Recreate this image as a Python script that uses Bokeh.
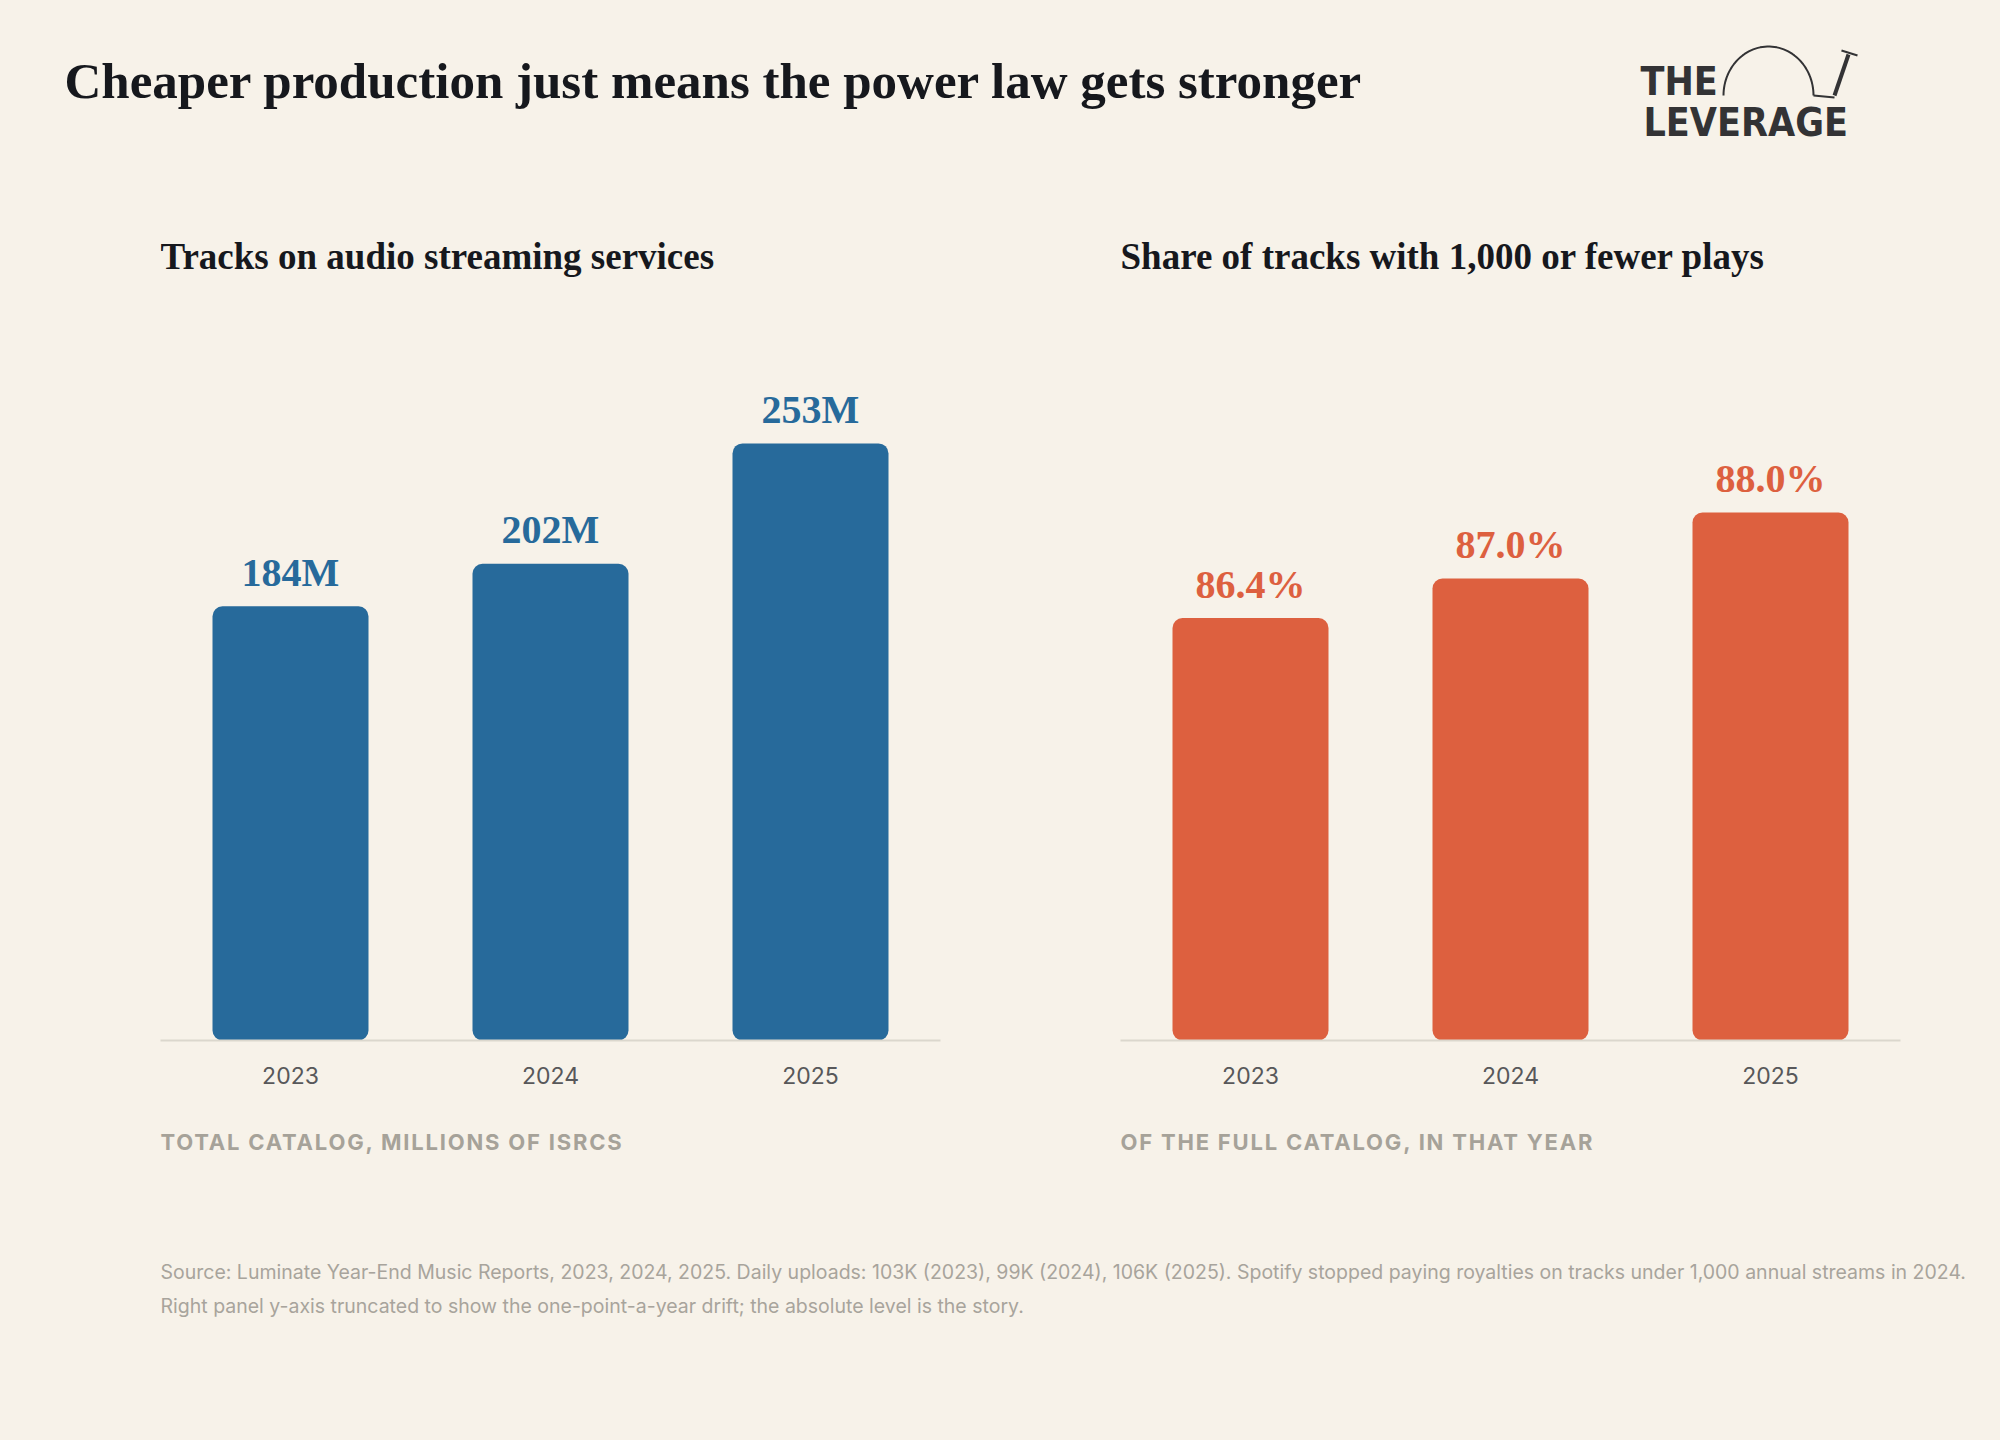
import numpy as np
from bokeh.plotting import figure
from bokeh.layouts import column, row
from bokeh.models import (Range1d, FactorRange, Label, ColumnDataSource,
                          GlobalInlineStyleSheet, InlineStyleSheet)
from bokeh.core.properties import value
from bokeh.embed import file_html
from bokeh.resources import INLINE

# ---------------- data ----------------
years = ["2023", "2024", "2025"]
tracks_m = [184, 202, 253]
share_pct = [86.4, 87.0, 88.0]
track_labels = [f"{v}M" for v in tracks_m]
share_labels = [f"{v:.1f}%" for v in share_pct]

TITLE = "Cheaper production just means the power law gets stronger"
LEFT_TITLE = "Tracks on audio streaming services"
RIGHT_TITLE = "Share of tracks with 1,000 or fewer plays"
LEFT_SUB = "TOTAL CATALOG, MILLIONS OF ISRCS"
RIGHT_SUB = "OF THE FULL CATALOG, IN THAT YEAR"
NOTE1 = ("Source: Luminate Year-End Music Reports, 2023, 2024, 2025. Daily uploads: 103K (2023), "
         "99K (2024), 106K (2025). Spotify stopped paying royalties on tracks under 1,000 annual streams in 2024.")
NOTE2 = "Right panel y-axis truncated to show the one-point-a-year drift; the absolute level is the story."

# ---------------- style ----------------
BG = "#f7f2e9"
BLUE = "#276a9b"
RED = "#dd603f"
INK = "#16181d"
LOGO = "#333335"
SUBC = "#a6a299"
NOTEC = "#a8a49c"
SERIF = "Liberation Serif"
SANS = "Inter"
BASE_SHIFT = 0.375  # alphabetic baseline correction (fraction of font size)


def base(y, size):
    """anchor for a text whose alphabetic baseline should land on screen row y"""
    return y - BASE_SHIFT * size


def blank(w, h, x0, x1, y0, y1, **kw):
    p = figure(width=w, height=h, x_range=Range1d(x0, x1), y_range=Range1d(y1, y0),
               output_backend="svg", toolbar_location=None,
               x_axis_location=None, y_axis_location=None, min_border=0, title=None, **kw)
    p.background_fill_color = BG
    p.border_fill_color = BG
    p.outline_line_color = None
    p.xgrid.visible = False
    p.ygrid.visible = False
    return p


# ---------------- header (rows 0..198) ----------------
header = blank(1984, 198, 0, 1984, 0, 198)
header.add_layout(Label(x=64, y=base(100, 51), text=TITLE, text_font=SERIF, text_font_size="51px",
                        text_font_style="bold", text_color=INK, text_baseline="alphabetic"))
header.add_layout(Label(x=1640, y=base(96, 39), text="THE", text_font="DejaVu Sans Condensed",
                        text_font_size="39px", text_font_style="bold", text_color=LOGO,
                        text_baseline="alphabetic"))
header.add_layout(Label(x=1643, y=base(137, 39), text="LEVERAGE", text_font="DejaVu Sans Condensed",
                        text_font_size="39px", text_font_style="bold", text_color=LOGO,
                        text_baseline="alphabetic"))
# simple line-drawing hint of the logo's head + pencil
t = np.linspace(0, np.pi, 60)
header.line(1768 - 45 * np.cos(t), 95 - 49 * np.sin(t), line_color=LOGO, line_width=2)
header.line([1813, 1834], [95, 97], line_color=LOGO, line_width=2)
header.line([1834, 1848], [95, 54], line_color=LOGO, line_width=4)
header.line([1841, 1857], [50, 55], line_color=LOGO, line_width=2)

# ---------------- panels (rows 198..1110) ----------------
TOP, BOTTOM = 198, 1110
FR_TOP, FR_BOT = 228, 1040  # screen rows of the plot frame


def panel(title, vals, labels, color, y0, pxper, width, bleft, bright):
    fh = FR_BOT - FR_TOP
    p = figure(width=width, height=BOTTOM - TOP,
               x_range=FactorRange(factors=years, range_padding=0),
               y_range=Range1d(y0, y0 + fh / pxper),
               output_backend="svg", toolbar_location=None, y_axis_location=None, title=None,
               min_border_left=bleft, min_border_right=bright,
               min_border_top=FR_TOP - TOP, min_border_bottom=BOTTOM - FR_BOT)
    p.background_fill_color = BG
    p.border_fill_color = BG
    p.outline_line_color = None
    p.xgrid.visible = False
    p.ygrid.visible = False

    def dy(sy):
        return y0 + (FR_BOT - sy) / pxper

    src = ColumnDataSource(dict(year=years, val=vals, label=labels))
    p.vbar(x="year", top="val", bottom=y0, width=0.6, source=src,
           fill_color=color, line_color=None, border_radius=10)
    p.text(x="year", y="val", text="label", source=src, text_align="center",
           text_baseline="alphabetic", y_offset=-(19 + BASE_SHIFT * 40), text_font=value(SERIF),
           text_font_size="40px", text_font_style="bold", text_color=color)

    ax = p.xaxis[0]
    ax.axis_line_color = "#dbd7cd"
    ax.axis_line_width = 2
    ax.major_tick_line_color = None
    ax.minor_tick_line_color = None
    ax.major_label_text_font = SANS
    ax.major_label_text_font_size = "23px"
    ax.major_label_text_color = "#58585a"
    ax.major_label_standoff = 20

    p.add_layout(Label(x=0, y=dy(base(270, 37)), text=title, text_font=SERIF, text_font_size="37px",
                       text_font_style="bold", text_color=INK, text_baseline="alphabetic"))
    return p


left = panel(LEFT_TITLE, tracks_m, track_labels, BLUE, 0, 2.36, 1030, 160, 90)
right = panel(RIGHT_TITLE, share_pct, share_labels, RED, 80, 66.0, 954, 90, 84)

# ---------------- panel sub-captions (rows 1110..1190), letter-spaced ----------------
subs = blank(1984, 80, 0, 1984, 1110, 1190,
             stylesheets=[InlineStyleSheet(css=":host { letter-spacing: 1.8px; }")])
for sx, txt in [(160, LEFT_SUB), (1120, RIGHT_SUB)]:
    subs.add_layout(Label(x=sx, y=base(1150, 22), text=txt, text_font=SANS, text_font_size="22px",
                          text_font_style="bold", text_color=SUBC, text_baseline="alphabetic"))

# ---------------- footer (rows 1190..1420) ----------------
footer = blank(1984, 230, 0, 1984, 1190, 1420)
footer.add_layout(Label(x=160, y=base(1279, 19.5), text=NOTE1, text_font=SANS, text_font_size="19.5px",
                        text_color=NOTEC, text_baseline="alphabetic"))
footer.add_layout(Label(x=160, y=base(1313, 19.5), text=NOTE2, text_font=SANS, text_font_size="19.5px",
                        text_color=NOTEC, text_baseline="alphabetic"))

page = column(header, row(left, right), subs, footer,
              stylesheets=[GlobalInlineStyleSheet(css="html, body { background: #f7f2e9; }")])

open("out.html", "w").write(file_html(page, INLINE))
